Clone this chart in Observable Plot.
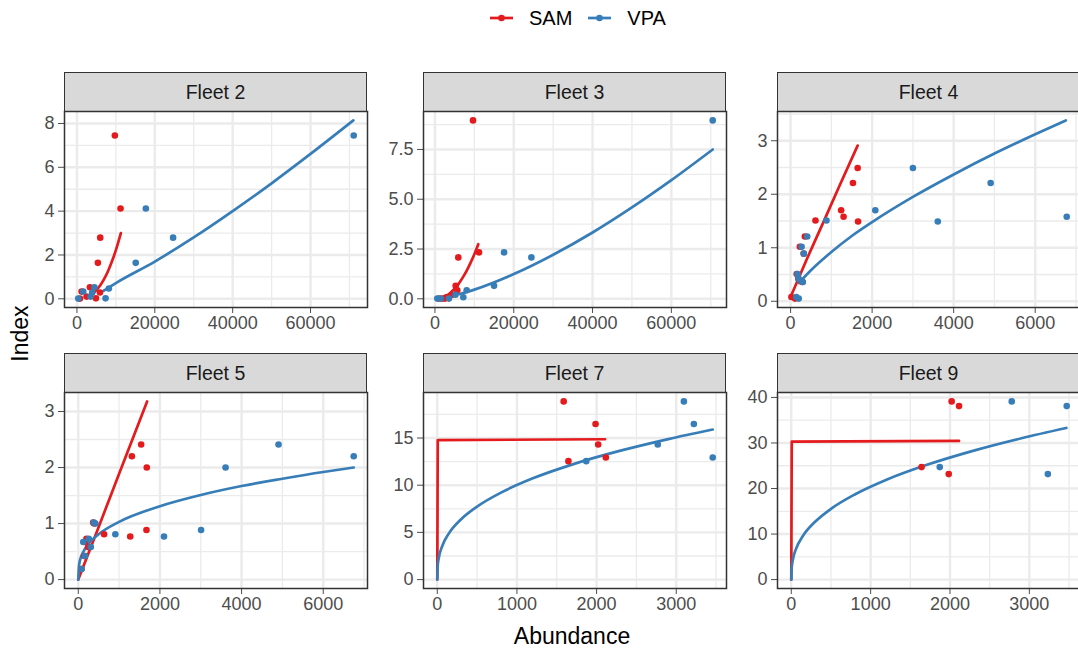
<!DOCTYPE html>
<html><head><meta charset="utf-8">
<script src="https://cdn.jsdelivr.net/npm/d3@7"></script>
<script src="https://cdn.jsdelivr.net/npm/@observablehq/plot@0.6"></script>
<style>
html,body{margin:0;padding:0;overflow:hidden;background:#fff;width:1078px;height:653px;}
#root{position:relative;width:1078px;height:653px;overflow:hidden;font-family:"Liberation Sans",Arial,sans-serif;}
.strip{position:absolute;box-sizing:border-box;background:#D9D9D9;border:1.5px solid #333333;color:#1A1A1A;font-size:19.5px;display:flex;align-items:center;justify-content:center;}
.panel{position:absolute;}
.panel svg{max-width:none;}
</style></head><body><div id="root"></div>
<script>
// ---- series ----
const series = ["SAM", "VPA"];
const seriesColors = ["#E41A1C", "#377EB8"];
const fleets = ["Fleet 2", "Fleet 3", "Fleet 4", "Fleet 5", "Fleet 7", "Fleet 9"];

// ---- observed points: index values with SAM / VPA abundance ----
const f2Index = [7.45, 4.12, 2.79, 1.64, 0.53, 0.47, 0.33, 0.29, 0.10, 0.02, 0.01];
const f2Sam   = [9740, 11200, 5980, 5380, 3330, 4190, 1200, 5900, 2480, 4870, 770];
const f2Vpa   = [71100, 17700, 24700, 15100, 4500, 8200, 1620, 3930, 3500, 7350, 340];

const f3Index = [8.96, 2.33, 2.08, 0.65, 0.43, 0.20, 0.08, 0.01, 0.01, 0.01];
const f3Sam   = [9660, 11180, 5930, 5260, 5670, 4400, 2900, 2540, 1860, 1010];
const f3Vpa   = [70500, 17540, 24480, 15000, 8050, 5200, 7200, 3560, 1450, 590];

const f4Index = [2.49, 2.21, 1.70, 1.58, 1.49, 1.51, 1.21, 1.02, 0.89, 0.51, 0.42, 0.36, 0.08, 0.05];
const f4Sam   = [1645, 1530, 1240, 1300, 1655, 611, 350, 227, 320, 150, 190, 290, 20, 110];
const f4Vpa   = [3000, 4907, 2078, 6773, 3611, 880, 408, 270, 326, 170, 200, 300, 140, 200];

const f5Index = [2.41, 2.20, 2.00, 0.886, 0.77, 0.81, 1.02, 1.00, 0.73, 0.67, 0.58, 0.42, 0.19];
const f5Sam   = [1540, 1313, 1678, 1670, 1273, 632, 365, 390, 200, 162, 243, 150, 80];
const f5Vpa   = [4905, 6747, 3608, 3008, 2100, 908, 380, 420, 258, 122, 307, 162, 80];

const f7Index = [18.88, 16.49, 14.31, 12.94, 12.55];
const f7Sam   = [1587, 1987, 2020, 2116, 1646];
const f7Vpa   = [3096, 3221, 2768, 3458, 1870];

const f9Index = [39.13, 38.1, 24.7, 23.17];
const f9Sam   = [2021, 2114, 1642, 1984];
const f9Vpa   = [2778, 3471, 1871, 3233];

// ---- fitted curves: [abundance, index] ----
const f2SamFit = [[3800,0.2],[5000,0.4],[6000,0.62],[7000,0.91],[8000,1.27],[9000,1.71],[10000,2.22],[11280,3.0]];
const f2VpaFit = [[6700,0.35],[10000,0.72],[20000,1.70],[30000,2.80],[40000,4.0],[50000,5.27],[60000,6.61],[71000,8.14]];
const f3SamFit = [[1860,0.06],[3000,0.17],[4000,0.32],[5000,0.51],[6000,0.75],[7000,1.05],[8000,1.39],[9000,1.79],[10000,2.24],[11000,2.74]];
const f3VpaFit = [[6100,0.23],[10000,0.46],[20000,1.24],[30000,2.21],[40000,3.33],[50000,4.59],[60000,5.96],[70500,7.5]];
const f4SamFit = [[17,0.11],[400,0.79],[800,1.47],[1200,2.16],[1645,2.91]];
const f4VpaFit = [[200,0.34],[500,0.58],[1000,0.92],[1500,1.22],[2000,1.48],[3000,1.95],[4000,2.37],[5000,2.76],[6000,3.12],[6750,3.38]];
const f5SamFit = [[0,0],[500,0.94],[1000,1.89],[1686,3.18]];
const f5VpaFit = [[0,0],[20,0.26],[60,0.39],[120,0.49],[250,0.64],[500,0.81],[1000,1.03],[2000,1.31],[3000,1.51],[4000,1.67],[5000,1.80],[6000,1.92],[6747,2.0]];
const f7SamFit = [[0,0],[6,14.78],[2107,14.87]];
const f7VpaFit = [[0,0],[5,1.40],[20,2.34],[60,3.51],[150,4.95],[300,6.40],[500,7.74],[800,9.22],[1200,10.73],[1700,12.21],[2300,13.66],[2900,14.89],[3458,15.9]];
const f9SamFit = [[0,0],[6,30.3],[2114,30.45]];
const f9VpaFit = [[0,0],[5,2.53],[20,4.37],[60,6.74],[150,9.67],[300,12.69],[500,15.53],[800,18.69],[1200,21.93],[1700,25.15],[2300,28.33],[2900,31.04],[3467,33.3]];

// ---- tick labels ----
const bigXLabels = ["0", "20000", "40000", "60000"];
const midXLabels = ["0", "2000", "4000", "6000"];
const smallXLabels = ["0", "1000", "2000", "3000"];
const f2YLabels = ["0", "2", "4", "6", "8"];
const f3YLabels = ["0.0", "2.5", "5.0", "7.5"];
const f4YLabels = ["0", "1", "2", "3"];
const f5YLabels = ["0", "1", "2", "3"];
const f7YLabels = ["0", "5", "10", "15"];
const f9YLabels = ["0", "10", "20", "30", "40"];

const panels = [
  {index: f2Index, sam: f2Sam, vpa: f2Vpa, samFit: f2SamFit, vpaFit: f2VpaFit, xl: bigXLabels, yl: f2YLabels, step: false},
  {index: f3Index, sam: f3Sam, vpa: f3Vpa, samFit: f3SamFit, vpaFit: f3VpaFit, xl: bigXLabels, yl: f3YLabels, step: false},
  {index: f4Index, sam: f4Sam, vpa: f4Vpa, samFit: f4SamFit, vpaFit: f4VpaFit, xl: midXLabels, yl: f4YLabels, step: false},
  {index: f5Index, sam: f5Sam, vpa: f5Vpa, samFit: f5SamFit, vpaFit: f5VpaFit, xl: midXLabels, yl: f5YLabels, step: false},
  {index: f7Index, sam: f7Sam, vpa: f7Vpa, samFit: f7SamFit, vpaFit: f7VpaFit, xl: smallXLabels, yl: f7YLabels, step: true},
  {index: f9Index, sam: f9Sam, vpa: f9Vpa, samFit: f9SamFit, vpaFit: f9VpaFit, xl: smallXLabels, yl: f9YLabels, step: true}
];

// ---- layout ----
const root = document.getElementById("root");
const ML = 55, MR = 40, MB = 36, W = 303, H = 196, stripH = 39;
const colLeft = [64, 423, 777], rowTop = [111, 392];
const FONT = '"Liberation Sans", Arial, sans-serif';

function expand([a, b]) { const r = b - a; return [a - 0.05 * r, b + 0.05 * r]; }
function minors(t, dom) {
  const step = t[1] - t[0];
  const out = [];
  for (let v = t[0] - step / 2; v <= dom[1]; v += step) if (v >= dom[0]) out.push(v);
  return out;
}

panels.forEach((p, i) => {
  const col = i % 3, row = Math.floor(i / 3);
  const L = colLeft[col], T = rowTop[row];
  const samPts = p.index.map((v, k) => [p.sam[k], v]);
  const vpaPts = p.index.map((v, k) => [p.vpa[k], v]);
  const all = [...samPts, ...vpaPts, ...p.samFit, ...p.vpaFit];
  const xd = expand(d3.extent(all, d => d[0]));
  const yd = expand(d3.extent(all, d => d[1]));
  const xt = p.xl.map(Number), yt = p.yl.map(Number);

  const strip = document.createElement("div");
  strip.className = "strip";
  Object.assign(strip.style, {left: L + "px", top: (T - stripH) + "px", width: W + "px", height: (stripH + 1) + "px"});
  strip.textContent = fleets[i];
  root.appendChild(strip);

  const chart = Plot.plot({
    width: ML + W + MR, height: H + MB,
    marginLeft: ML, marginRight: MR, marginTop: 0, marginBottom: MB,
    style: {background: "transparent", overflow: "visible", fontFamily: FONT, fontSize: "18px", color: "#4D4D4D"},
    x: {domain: xd, ticks: xt, tickFormat: d => p.xl[xt.indexOf(d)], tickSize: 6, tickPadding: 3, label: null},
    y: {domain: yd, ticks: yt, tickFormat: d => p.yl[yt.indexOf(d)], tickSize: 6, tickPadding: 4, label: null},
    marks: [
      Plot.ruleX(minors(xt, xd), {stroke: "#EBEBEB", strokeWidth: 1.3}),
      Plot.ruleY(minors(yt, yd), {stroke: "#EBEBEB", strokeWidth: 1.3}),
      Plot.ruleX(xt, {stroke: "#EBEBEB", strokeWidth: 2.4}),
      Plot.ruleY(yt, {stroke: "#EBEBEB", strokeWidth: 2.4}),
      Plot.line(p.samFit, {stroke: seriesColors[0], strokeWidth: 2.7, curve: p.step ? "linear" : "monotone-x"}),
      Plot.line(p.vpaFit, {stroke: seriesColors[1], strokeWidth: 2.7, curve: "monotone-x"}),
      Plot.dot(samPts, {fill: seriesColors[0], r: 3.3, stroke: null}),
      Plot.dot(vpaPts, {fill: seriesColors[1], r: 3.3, stroke: null}),
      Plot.frame({stroke: "#333333", strokeWidth: 1.5})
    ]
  });
  const wrap = document.createElement("div");
  wrap.className = "panel";
  Object.assign(wrap.style, {left: (L - ML) + "px", top: T + "px", width: (ML + W + MR) + "px"});
  wrap.appendChild(chart);
  root.appendChild(wrap);
});

// ---- legend ----
const legend = document.createElement("div");
Object.assign(legend.style, {position: "absolute", left: "490px", top: "6px", display: "flex", alignItems: "center", fontSize: "20px", color: "#000"});
series.forEach((s, k) => {
  const ns = "http://www.w3.org/2000/svg";
  const svg = document.createElementNS(ns, "svg");
  svg.setAttribute("width", 23); svg.setAttribute("height", 24);
  const ln = document.createElementNS(ns, "line");
  ln.setAttribute("x1", 0); ln.setAttribute("x2", 23); ln.setAttribute("y1", 12); ln.setAttribute("y2", 12);
  ln.setAttribute("stroke", seriesColors[k]); ln.setAttribute("stroke-width", 2.7);
  const c = document.createElementNS(ns, "circle");
  c.setAttribute("cx", 11.5); c.setAttribute("cy", 12); c.setAttribute("r", 3.3); c.setAttribute("fill", seriesColors[k]);
  svg.appendChild(ln); svg.appendChild(c);
  const t = document.createElement("span");
  t.textContent = s;
  t.style.marginLeft = "16px";
  t.style.marginRight = k === 0 ? "16px" : "0px";
  legend.appendChild(svg); legend.appendChild(t);
});
root.appendChild(legend);

// ---- axis titles ----
const xt = document.createElement("div");
Object.assign(xt.style, {position: "absolute", left: "422px", width: "300px", top: "625px", textAlign: "center", fontSize: "23px", lineHeight: "1", color: "#000"});
xt.textContent = "Abundance";
root.appendChild(xt);
const ytl = document.createElement("div");
Object.assign(ytl.style, {position: "absolute", left: "-30px", width: "100px", top: "322px", textAlign: "center", fontSize: "23px", lineHeight: "1", color: "#000", transform: "rotate(-90deg)"});
ytl.textContent = "Index";
root.appendChild(ytl);
</script></body></html>
